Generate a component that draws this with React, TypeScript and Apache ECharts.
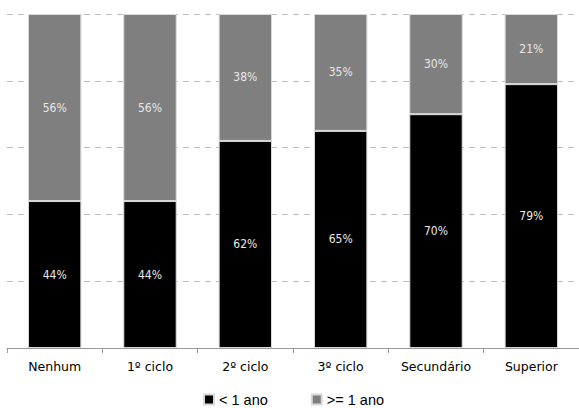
import React, { useEffect, useRef } from "react";
import * as echarts from "echarts";

const categories = ["Nenhum", "1º ciclo", "2º ciclo", "3º ciclo", "Secundário", "Superior"];
const lessThanOneYear = [44, 44, 62, 65, 70, 79];
const oneYearOrMore = [56, 56, 38, 35, 30, 21];
const seriesNames = ["< 1 ano", ">= 1 ano"];

export default function App() {
  const ref = useRef<HTMLDivElement>(null);
  useEffect(() => {
    if (!ref.current) return;
    const chart = echarts.init(ref.current, null, { renderer: "svg" });
    const labelStyle = {
      show: true,
      position: "inside" as const,
      color: "#e8e8e8",
      fontFamily: "DejaVu Sans Condensed",
      fontSize: 12,
      formatter: (p: any) => p.value + "%",
    };
    chart.setOption({
      animation: false,
      backgroundColor: "#ffffff",
      grid: { left: 7, top: 14, width: 575, height: 334, containLabel: false },
      legend: {
        left: 203,
        top: 392,
        itemWidth: 10,
        itemHeight: 10,
        itemGap: 43,
        icon: "rect",
        textStyle: { fontFamily: "Liberation Sans", fontSize: 14.5, color: "#000" },
        padding: 0,
        data: seriesNames,
      },
      xAxis: {
        type: "category",
        data: categories,
        axisLine: { lineStyle: { color: "#999999", width: 1 } },
        axisTick: { show: true, length: 5, lineStyle: { color: "#999999" } },
        axisLabel: {
          margin: 12,
          color: "#000",
          fontFamily: "DejaVu Sans",
          fontSize: 12.5,
        },
      },
      yAxis: {
        type: "value",
        min: 0,
        max: 100,
        interval: 20,
        axisLabel: { show: false },
        axisLine: { show: false },
        axisTick: { show: false },
        splitLine: { lineStyle: { color: "#bdbdbd", type: [6, 5], width: 1 } },
      },
      series: [
        {
          name: seriesNames[0],
          type: "bar",
          stack: "total",
          data: lessThanOneYear,
          barWidth: "56%",
          itemStyle: { color: "#000000", borderColor: "#d9d9d9", borderWidth: 1 },
          label: labelStyle,
        },
        {
          name: seriesNames[1],
          type: "bar",
          stack: "total",
          data: oneYearOrMore,
          barWidth: "56%",
          itemStyle: { color: "#7f7f7f", borderColor: "#d9d9d9", borderWidth: 1 },
          label: labelStyle,
        },
      ],
    });
    return () => chart.dispose();
  }, []);
  return (
    <div
      ref={ref}
      style={{ position: "fixed", left: 0, top: 0, width: 579, height: 408 }}
    />
  );
}
